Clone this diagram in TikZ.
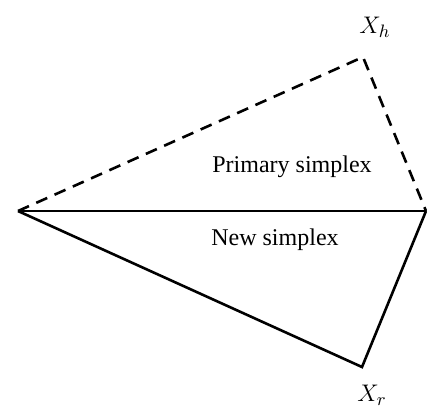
\documentclass[tikz,border=0pt]{standalone}
\usepackage{fontspec}
\setmainfont{Liberation Serif}
\usetikzlibrary{positioning}

\begin{document}
\begin{tikzpicture}[x=0.5pt, y=-0.5pt, font=\fontsize{12}{14}\selectfont,
  edge/.style={line width=1.3pt, line join=miter},
  dashedge/.style={edge, dash pattern=on 6pt off 4pt},
  vlabel/.style={inner sep=0pt, font=\fontsize{13}{15}\selectfont}]
\useasboundingbox (0,0) rectangle (427,409);
% vertices of the simplex
\coordinate (L) at (18,211);
\coordinate (R) at (426,211);
\coordinate (H) at (363,57);
\coordinate (Xr) at (362,367);
% edges
\draw[dashedge] (L) -- (H) -- (R);
\draw[edge] (L) -- (R);
\draw[edge] (L) -- (Xr) -- (R);
% labels
\node[vlabel] (hlab) at (375,27) {$X_h$};
\node[vlabel] (rlab) at (372,395) {$X_r$};
\node (prim) at (292,167) {Primary simplex};
\node (new) at (275,240) {New simplex};
\end{tikzpicture}
\end{document}
